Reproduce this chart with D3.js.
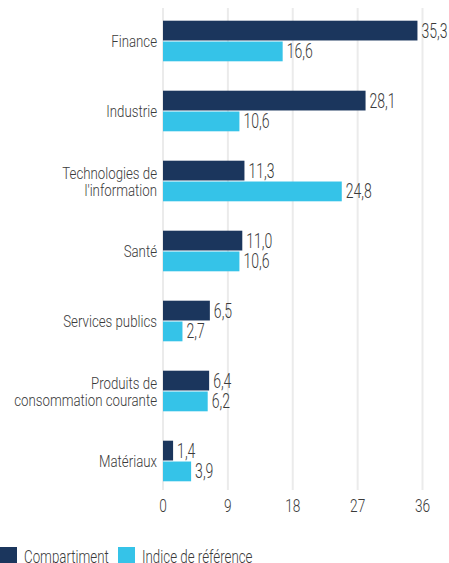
<!DOCTYPE html>
<html>
<head>
<meta charset="utf-8">
<script src="https://d3js.org/d3.v7.min.js"></script>
<style>
  body { margin: 0; background: #fff; }
  svg text { font-family: Roboto, "Noto Sans", sans-serif; font-weight: 300; fill: #3a3a3a; }
</style>
</head>
<body>
<div id="chart"></div>
<script>
// data
var categories = ["Finance", "Industrie", "Technologies de|l'information", "Santé",
                  "Services publics", "Produits de|consommation courante", "Matériaux"];
var compartiment = [35.3, 28.1, 11.3, 11.0, 6.5, 6.4, 1.4];
var indice = [16.6, 10.6, 24.8, 10.6, 2.7, 6.2, 3.9];
var seriesNames = ["Compartiment", "Indice de référence"];
var ticks = [0, 9, 18, 27, 36];

var colors = ["#1b365d", "#35c3e8"];
var W = 449, H = 563;

var svg = d3.select("#chart").append("svg")
  .attr("width", W).attr("height", H);

// condensed text helper (horizontal squeeze to mimic the condensed face)
function ctext(parent, x, y, anchor, size, str, sx) {
  return parent.append("g").attr("transform", "translate(" + x + "," + y + ")")
    .append("text")
    .attr("transform", "scale(" + (sx || 0.72) + ",1)")
    .attr("text-anchor", anchor)
    .style("font-size", size + "px")
    .text(str);
}

var x = d3.scaleLinear().domain([0, 36]).range([163, 422.5]);
var y = d3.scaleBand().domain(categories).range([6, 496]).paddingInner(0.42).paddingOuter(0.21);
var sub = d3.scaleBand().domain([0, 1]).range([0, y.bandwidth()]).paddingInner(0.05);

// grid
svg.append("g").selectAll("line").data(ticks).join("line")
  .attr("x1", d => x(d)).attr("x2", d => x(d))
  .attr("y1", 8).attr("y2", 490)
  .attr("stroke", "#ebebeb").attr("stroke-width", 2);

// tick labels
var axisG = svg.append("g");
ticks.forEach(t => ctext(axisG, x(t), 512, "middle", 19, t));

var fmt = v => v.toFixed(1).replace(".", ",");

var groups = svg.append("g").selectAll("g").data(categories).join("g")
  .attr("transform", d => "translate(0," + y(d) + ")");

[compartiment, indice].forEach(function(vals, s) {
  groups.append("rect")
    .attr("x", x(0))
    .attr("y", sub(s))
    .attr("width", (d, i) => x(vals[i]) - x(0))
    .attr("height", sub.bandwidth())
    .attr("fill", colors[s]);
  groups.each(function(d, i) {
    ctext(d3.select(this), x(vals[i]) + 4, sub(s) + sub.bandwidth() / 2 + 7, "start", 19.5, fmt(vals[i]));
  });
});

// category labels
groups.each(function(d) {
  var lines = d.split("|");
  var c = y.bandwidth() / 2;
  var g = d3.select(this);
  lines.forEach(function(l, i) {
    ctext(g, 157, c + (i - (lines.length - 1) / 2) * 17 + 6, "end", 17, l, 0.78);
  });
});

// legend
var legend = svg.append("g").attr("transform", "translate(0,546)");
var lx = [0, 118];
seriesNames.forEach(function(n, i) {
  legend.append("rect").attr("x", lx[i]).attr("y", 1).attr("width", 17).attr("height", 17).attr("fill", colors[i]);
  ctext(legend, lx[i] + 24, 16.5, "start", 18, n, 0.74);
});
</script>
</body>
</html>
